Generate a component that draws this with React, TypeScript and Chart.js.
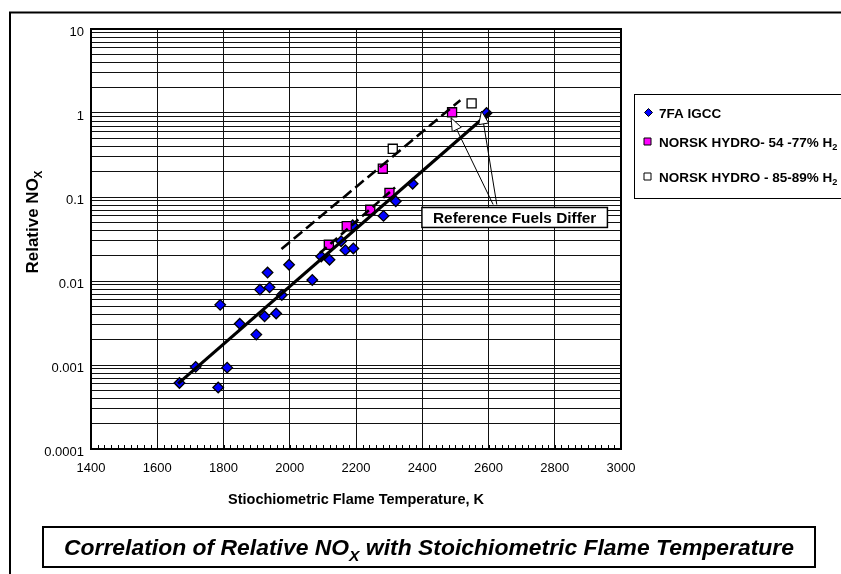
import React, { useEffect, useRef } from 'react';
import { Chart, registerables } from 'chart.js';

Chart.register(...registerables);

const FONT = '"Liberation Sans", Arial, Helvetica, sans-serif';

// ---- axis ticks ----
const xTickValues = [1400, 1600, 1800, 2000, 2200, 2400, 2600, 2800, 3000];
const yDecades = [0.0001, 0.001, 0.01, 0.1, 1, 10];
const yTickLabels = ['0.0001', '0.001', '0.01', '0.1', '1', '10'];

// ---- series: 7FA IGCC ----
const igccTemp = [1667, 1716, 1784, 1811, 1790, 1849, 1899, 1924, 1959, 1976, 1910, 1939, 1933, 1998, 2068, 2095, 2120, 2155, 2168, 2192, 2190, 2283, 2320, 2371, 2594];
const igccNox = [0.00061, 0.00095, 0.00054, 0.00093, 0.0052, 0.0031, 0.0023, 0.0038, 0.0041, 0.0068, 0.0079, 0.0084, 0.0126, 0.0156, 0.0103, 0.0196, 0.0179, 0.0298, 0.0233, 0.0244, 0.0461, 0.0596, 0.089, 0.144, 1.0];

// ---- series: NORSK HYDRO 54-77% H2 ----
const h2LowTemp = [2118, 2172, 2243, 2301, 2281, 2490];
const h2LowNox = [0.027, 0.0449, 0.0705, 0.112, 0.217, 1.02];

// ---- series: NORSK HYDRO 85-89% H2 ----
const h2HighTemp = [2311, 2549];
const h2HighNox = [0.375, 1.3];

// ---- correlation lines ----
const fitTemp = [1663, 2605];
const fitNox = [0.0006, 1.03];
const dashLongTemp = [1975, 2515];
const dashLongNox = [0.024, 1.42];
const dashShortTemp = [2091, 2318];
const dashShortNox = [0.0215, 0.13];

// ---- callout (data units) ----
const calloutText = 'Reference Fuels Differ';
const calloutBoxTemp = [2399, 2959];
const calloutBoxNox = [0.075, 0.0434];
const arrowTailTemp = [2614, 2625];
const arrowTailNox = [0.0814, 0.0814];
const arrowTipTemp = [2487, 2579];
const arrowTipNox = [0.877, 1.056];

const legendItems = [
  { label: '7FA IGCC', sub: '', style: 'diamond', color: '#0000ff' },
  { label: 'NORSK HYDRO- 54 -77% H', sub: '2', style: 'square', color: '#ff00ff' },
  { label: 'NORSK HYDRO - 85-89% H', sub: '2', style: 'square', color: '#ffffff' },
];

const zip = (xs: number[], ys: number[]) => xs.map((x, i) => ({ x, y: ys[i] }));

type Part = { t: string; sub?: boolean };

function drawRich(
  ctx: CanvasRenderingContext2D,
  parts: Part[],
  x: number,
  y: number,
  size: number,
  style: string,
  align: 'left' | 'center',
  fitWidth?: number
) {
  const subSize = size * 0.68;
  const fontFor = (p: Part) => `${style} ${p.sub ? subSize : size}px ${FONT}`;
  const widths = parts.map((p) => {
    ctx.font = fontFor(p);
    return ctx.measureText(p.t).width;
  });
  const total = widths.reduce((a, b) => a + b, 0);
  const sx = fitWidth ? fitWidth / total : 1;
  ctx.save();
  ctx.translate(x, y);
  ctx.scale(sx, 1);
  ctx.textBaseline = 'alphabetic';
  ctx.textAlign = 'left';
  ctx.fillStyle = '#000';
  let cx = align === 'center' ? -total / 2 : 0;
  parts.forEach((p, i) => {
    ctx.font = fontFor(p);
    ctx.fillText(p.t, cx, p.sub ? size * 0.25 : 0);
    cx += widths[i];
  });
  ctx.restore();
}

function arrowHead(ctx: CanvasRenderingContext2D, x0: number, y0: number, x1: number, y1: number) {
  const ang = Math.atan2(y1 - y0, x1 - x0);
  const len = 13;
  const hw = 5;
  const bx = x1 - Math.cos(ang) * len;
  const by = y1 - Math.sin(ang) * len;
  ctx.beginPath();
  ctx.moveTo(x1, y1);
  ctx.lineTo(bx + Math.sin(ang) * hw, by - Math.cos(ang) * hw);
  ctx.lineTo(bx - Math.sin(ang) * hw, by + Math.cos(ang) * hw);
  ctx.closePath();
  ctx.fillStyle = '#fff';
  ctx.fill();
  ctx.lineWidth = 1;
  ctx.strokeStyle = '#000';
  ctx.stroke();
}

const decorPlugin = {
  id: 'decor',
  beforeDraw(chart: any) {
    const ctx: CanvasRenderingContext2D = chart.ctx;
    ctx.save();
    ctx.fillStyle = '#fff';
    ctx.fillRect(0, 0, chart.width, chart.height);
    ctx.restore();
  },
  afterDraw(chart: any) {
    const ctx: CanvasRenderingContext2D = chart.ctx;
    const { left, right, top, bottom } = chart.chartArea;
    const xs = chart.scales.x;
    const ys = chart.scales.y;
    ctx.save();

    // minor ticks on bottom axis
    ctx.strokeStyle = '#000';
    ctx.lineWidth = 1;
    ctx.beginPath();
    for (let v = xTickValues[0]; v <= xTickValues[xTickValues.length - 1]; v += 20) {
      const px = Math.round(xs.getPixelForValue(v)) + 0.5;
      ctx.moveTo(px, bottom);
      ctx.lineTo(px, bottom - 4);
    }
    ctx.stroke();

    // plot frame
    ctx.lineWidth = 2;
    ctx.strokeRect(left, top, right - left, bottom - top);

    // outer chart frame
    ctx.beginPath();
    ctx.moveTo(10, chart.height + 2);
    ctx.lineTo(10, 12.5);
    ctx.lineTo(chart.width + 2, 12.5);
    ctx.stroke();

    // callout arrows
    ctx.lineWidth = 1;
    for (let i = 0; i < arrowTailTemp.length; i++) {
      const x0 = xs.getPixelForValue(arrowTailTemp[i]);
      const y0 = ys.getPixelForValue(arrowTailNox[i]);
      const x1 = xs.getPixelForValue(arrowTipTemp[i]);
      const y1 = ys.getPixelForValue(arrowTipNox[i]);
      ctx.beginPath();
      ctx.moveTo(x0, y0);
      ctx.lineTo(x1, y1);
      ctx.strokeStyle = '#000';
      ctx.stroke();
      arrowHead(ctx, x0, y0, x1, y1);
    }

    // callout box
    const bx0 = xs.getPixelForValue(calloutBoxTemp[0]);
    const bx1 = xs.getPixelForValue(calloutBoxTemp[1]);
    const by0 = ys.getPixelForValue(calloutBoxNox[0]);
    const by1 = ys.getPixelForValue(calloutBoxNox[1]);
    ctx.fillStyle = '#fff';
    ctx.fillRect(bx0, by0, bx1 - bx0, by1 - by0);
    ctx.lineWidth = 1.5;
    ctx.strokeStyle = '#000';
    ctx.strokeRect(bx0, by0, bx1 - bx0, by1 - by0);
    drawRich(ctx, [{ t: calloutText }], (bx0 + bx1) / 2, by1 - 4.5, 15.4, 'bold', 'center');

    // axis titles
    drawRich(ctx, [{ t: 'Stiochiometric Flame Temperature, K' }], (left + right) / 2, 504, 15, 'bold', 'center', 256);
    ctx.save();
    ctx.translate(38, (top + bottom) / 2 - 17);
    ctx.rotate(-Math.PI / 2);
    drawRich(ctx, [{ t: 'Relative NO' }, { t: 'X', sub: true }], 0, 0, 17, 'bold', 'center');
    ctx.restore();

    // legend
    ctx.lineWidth = 1;
    ctx.strokeStyle = '#000';
    ctx.strokeRect(634.5, 94.5, 240, 104);
    const rows = [112.5, 141.5, 176.5];
    legendItems.forEach((it, i) => {
      const cy = rows[i];
      ctx.beginPath();
      if (it.style === 'diamond') {
        ctx.moveTo(648.5, cy - 4);
        ctx.lineTo(652.5, cy);
        ctx.lineTo(648.5, cy + 4);
        ctx.lineTo(644.5, cy);
        ctx.closePath();
      } else {
        ctx.rect(644, cy - 3.5, 7, 7);
      }
      ctx.fillStyle = it.color;
      ctx.fill();
      ctx.lineWidth = 1;
      ctx.strokeStyle = '#000';
      ctx.stroke();
      const parts: Part[] = [{ t: it.label }];
      if (it.sub) parts.push({ t: it.sub, sub: true });
      drawRich(ctx, parts, 659, cy + 5, 13.5, 'bold', 'left');
    });

    // title box
    ctx.lineWidth = 2;
    ctx.strokeStyle = '#000';
    ctx.strokeRect(43, 527, 772, 40);
    drawRich(
      ctx,
      [{ t: 'Correlation of Relative NO' }, { t: 'X', sub: true }, { t: ' with Stoichiometric Flame Temperature' }],
      429,
      555,
      22,
      'italic bold',
      'center',
      730
    );
    ctx.restore();
  },
};

export default function App() {
  const ref = useRef<HTMLCanvasElement | null>(null);

  useEffect(() => {
    if (!ref.current) return;
    const lineDs = (xs: number[], ys: number[], width: number, dash: number[]) => ({
      data: zip(xs, ys),
      showLine: true,
      borderColor: '#000',
      borderWidth: width,
      borderDash: dash,
      pointRadius: 0,
      fill: false,
      order: 0,
    });
    const chart = new Chart(ref.current, {
      type: 'scatter',
      data: {
        datasets: [
          lineDs(fitTemp, fitNox, 3.2, []),
          lineDs(dashLongTemp, dashLongNox, 2.6, [11, 5]),
          lineDs(dashShortTemp, dashShortNox, 2.6, [9, 5]),
          {
            label: 'NORSK HYDRO - 85-89% H2',
            data: zip(h2HighTemp, h2HighNox),
            pointStyle: 'rect',
            pointRadius: 6.4,
            pointBackgroundColor: '#ffffff',
            pointBorderColor: '#000',
            pointBorderWidth: 1.3,
            order: 1,
          },
          {
            label: 'NORSK HYDRO- 54 -77% H2',
            data: zip(h2LowTemp, h2LowNox),
            pointStyle: 'rect',
            pointRadius: 6.4,
            pointBackgroundColor: '#ff00ff',
            pointBorderColor: '#000',
            pointBorderWidth: 1.3,
            order: 2,
          },
          {
            label: '7FA IGCC',
            data: zip(igccTemp, igccNox),
            pointStyle: 'rectRot',
            pointRadius: 5.3,
            pointBackgroundColor: '#0000ff',
            pointBorderColor: '#000',
            pointBorderWidth: 1.3,
            order: 3,
          },
        ] as any,
      },
      options: {
        animation: false,
        responsive: false,
        devicePixelRatio: 1,
        events: [],
        layout: { padding: { left: 0, right: 220, top: 29, bottom: 0 } },
        plugins: {
          legend: { display: false },
          tooltip: { enabled: false },
          title: { display: false },
        },
        scales: {
          x: {
            type: 'linear',
            min: 1400,
            max: 3000,
            afterBuildTicks: (s: any) => {
              s.ticks = xTickValues.map((v) => ({ value: v }));
            },
            afterFit: (s: any) => {
              s.height = 125;
            },
            ticks: {
              autoSkip: false,
              maxRotation: 0,
              padding: 12,
              color: '#000',
              font: { family: FONT, size: 13 },
              callback: (v: any) => String(v),
            },
            grid: { color: '#111', lineWidth: 1, drawTicks: false, tickLength: 0 },
            border: { display: false },
          },
          y: {
            type: 'logarithmic',
            min: yDecades[0],
            max: yDecades[yDecades.length - 1],
            afterBuildTicks: (s: any) => {
              const t: { value: number }[] = [];
              for (let d = 0; d < yDecades.length - 1; d++) {
                for (let m = 1; m <= 9; m++) {
                  t.push({ value: m === 1 ? yDecades[d] : Number((m * yDecades[d]).toPrecision(6)) });
                }
              }
              t.push({ value: yDecades[yDecades.length - 1] });
              s.ticks = t;
            },
            afterFit: (s: any) => {
              s.width = 91;
            },
            ticks: {
              autoSkip: false,
              padding: 7,
              labelOffset: 3,
              color: '#000',
              font: { family: FONT, size: 13 },
              callback: (v: any) => {
                const i = yDecades.findIndex((d) => Math.abs(v - d) / d < 1e-9);
                return i >= 0 ? yTickLabels[i] : '';
              },
            },
            grid: { color: '#111', lineWidth: 1, drawTicks: false, tickLength: 0 },
            border: { display: false },
          },
        },
      } as any,
      plugins: [decorPlugin],
    });
    return () => chart.destroy();
  }, []);

  return (
    <div style={{ position: 'fixed', left: 0, top: 0, width: 841, height: 574, background: '#fff' }}>
      <canvas ref={ref} width={841} height={574} style={{ display: 'block', width: 841, height: 574 }} />
    </div>
  );
}
